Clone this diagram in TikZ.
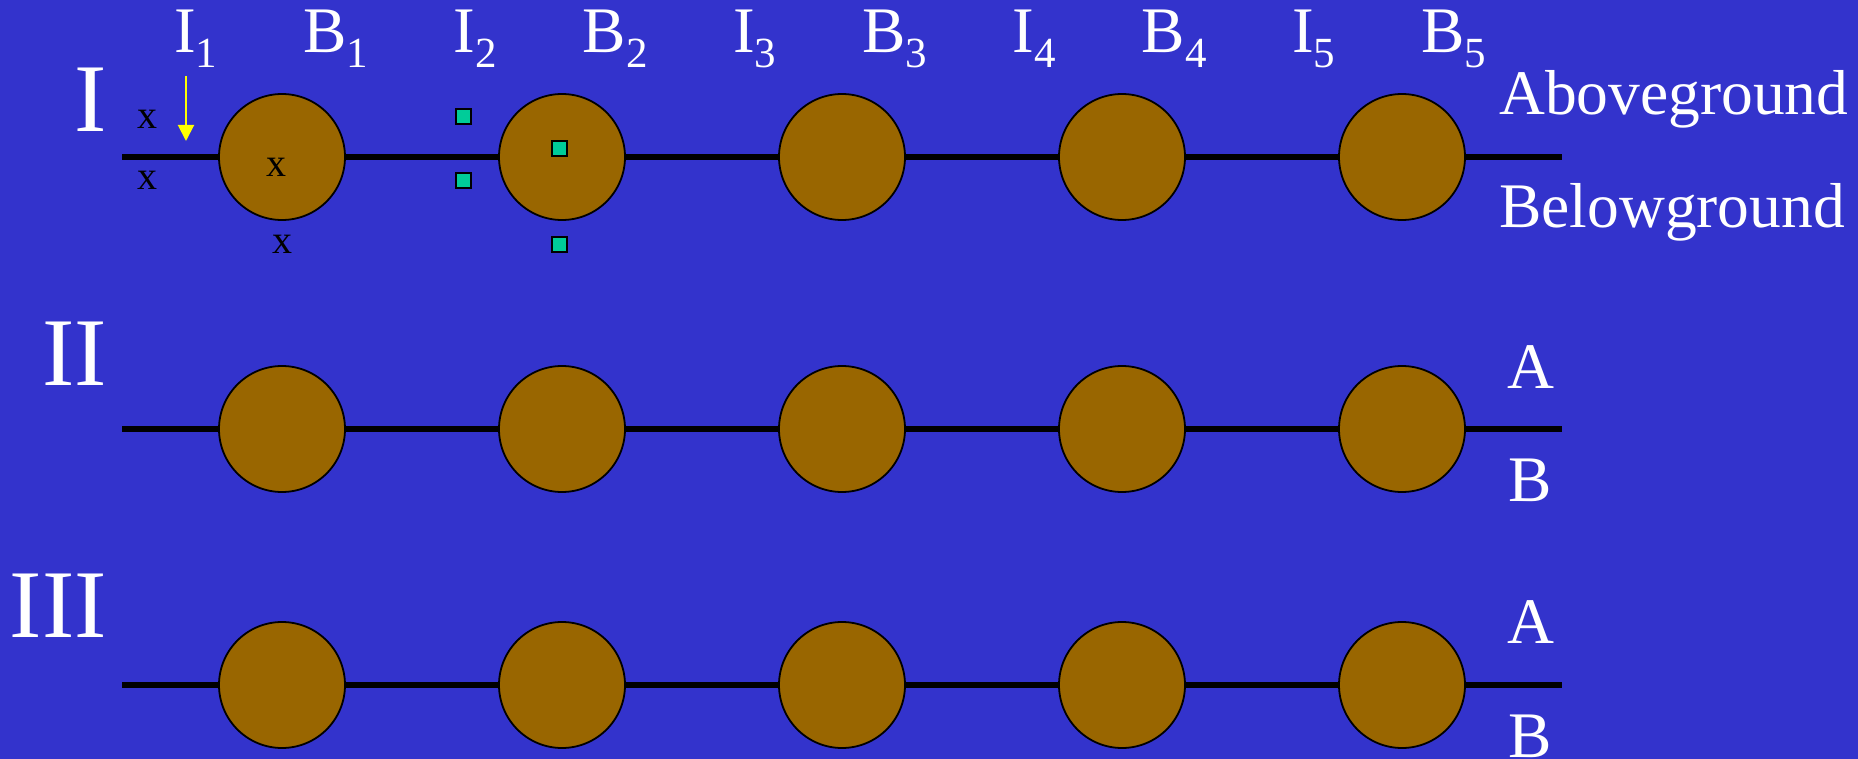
\documentclass[tikz,border=0pt]{standalone}
\usepackage{fontspec}
\setmainfont{Liberation Serif}
\usetikzlibrary{arrows.meta}
\definecolor{bg}{HTML}{3333CC}
\definecolor{soil}{HTML}{996600}
\definecolor{marker}{HTML}{00CC99}
\definecolor{arrowyellow}{HTML}{FFFF00}
\newcommand\lsub[1]{\raisebox{-15pt}{\fontsize{43}{50}\selectfont #1}}
\begin{document}
\begin{tikzpicture}[x=1pt,y=-1pt,
  bead/.style={circle, draw=black, line width=1.8pt, fill=soil, minimum size=126pt, inner sep=0pt},
  ground/.style={line width=6pt, draw=black},
  toplbl/.style={text=white, inner sep=0pt, anchor=base west, font=\fontsize{65}{78}\selectfont},
  sidelbl/.style={toplbl, font=\fontsize{63.5}{76}\selectfont},
  roman/.style={text=white, inner sep=0pt, anchor=base east, font=\fontsize{97}{116}\selectfont},
  xmark/.style={inner sep=0pt, text=black, font=\fontsize{40}{48}\selectfont},
  sqmark/.style={rectangle, draw=black, line width=2pt, fill=marker, minimum size=15pt, inner sep=0pt},
  inarrow/.style={draw=arrowyellow, line width=2pt, -{Triangle[length=16pt,width=16pt]}}
]
\fill[bg] (0,0) rectangle (1858,759);
\useasboundingbox (0,0) rectangle (1858,759);

% rows of beads
\foreach \r/\y in {1/157,2/429,3/685} {
  \coordinate (s\r) at (122,\y);
  \coordinate (e\r) at (1562,\y);
  \foreach \k in {1,...,5} {
    \node[bead] (c\r\k) at ({282+280*(\k-1)},\y) {};
  }
  \draw[ground] (s\r) -- (c\r1) -- (c\r2) -- (c\r3) -- (c\r4) -- (c\r5) -- (e\r);
}

% top labels
\foreach \k in {1,...,5} {
  \node[toplbl] (i\k) at ({174+279.5*(\k-1)},53) {I\lsub{\k}};
  \node[toplbl] (b\k) at ({303+279.5*(\k-1)},53) {B\lsub{\k}};
}

% row numerals
\node[roman] (r1) at (107,132) {I};
\node[roman] (r2) at (107,385) {II};
\node[roman] (r3) at (107,637) {III};

% right labels
\node[sidelbl] (above) at (1499,115) {Aboveground};
\node[sidelbl] (below) at (1499,228) {Belowground};
\node[toplbl] (a2) at (1507,388) {A};
\node[toplbl] (bb2) at (1508,501) {B};
\node[toplbl] (a3) at (1507,643) {A};
\node[toplbl] (bb3) at (1508,757) {B};

% x markers
\node[xmark] (x1) at (147.5,119) {x};
\node[xmark] (x2) at (147.5,180) {x};
\node[xmark] (x3) at (276,167.5) {x};
\node[xmark] (x4) at (282,244) {x};

% square markers
\node[sqmark] (q1) at (463,116.5) {};
\node[sqmark] (q2) at (463,180.5) {};
\node[sqmark] (q3) at (559,149) {};
\node[sqmark] (q4) at (559,245) {};

% input arrow
\coordinate (atop) at (186,76);
\coordinate (atip) at (186,141);
\draw[inarrow] (atop) -- (atip);
\end{tikzpicture}
\end{document}
